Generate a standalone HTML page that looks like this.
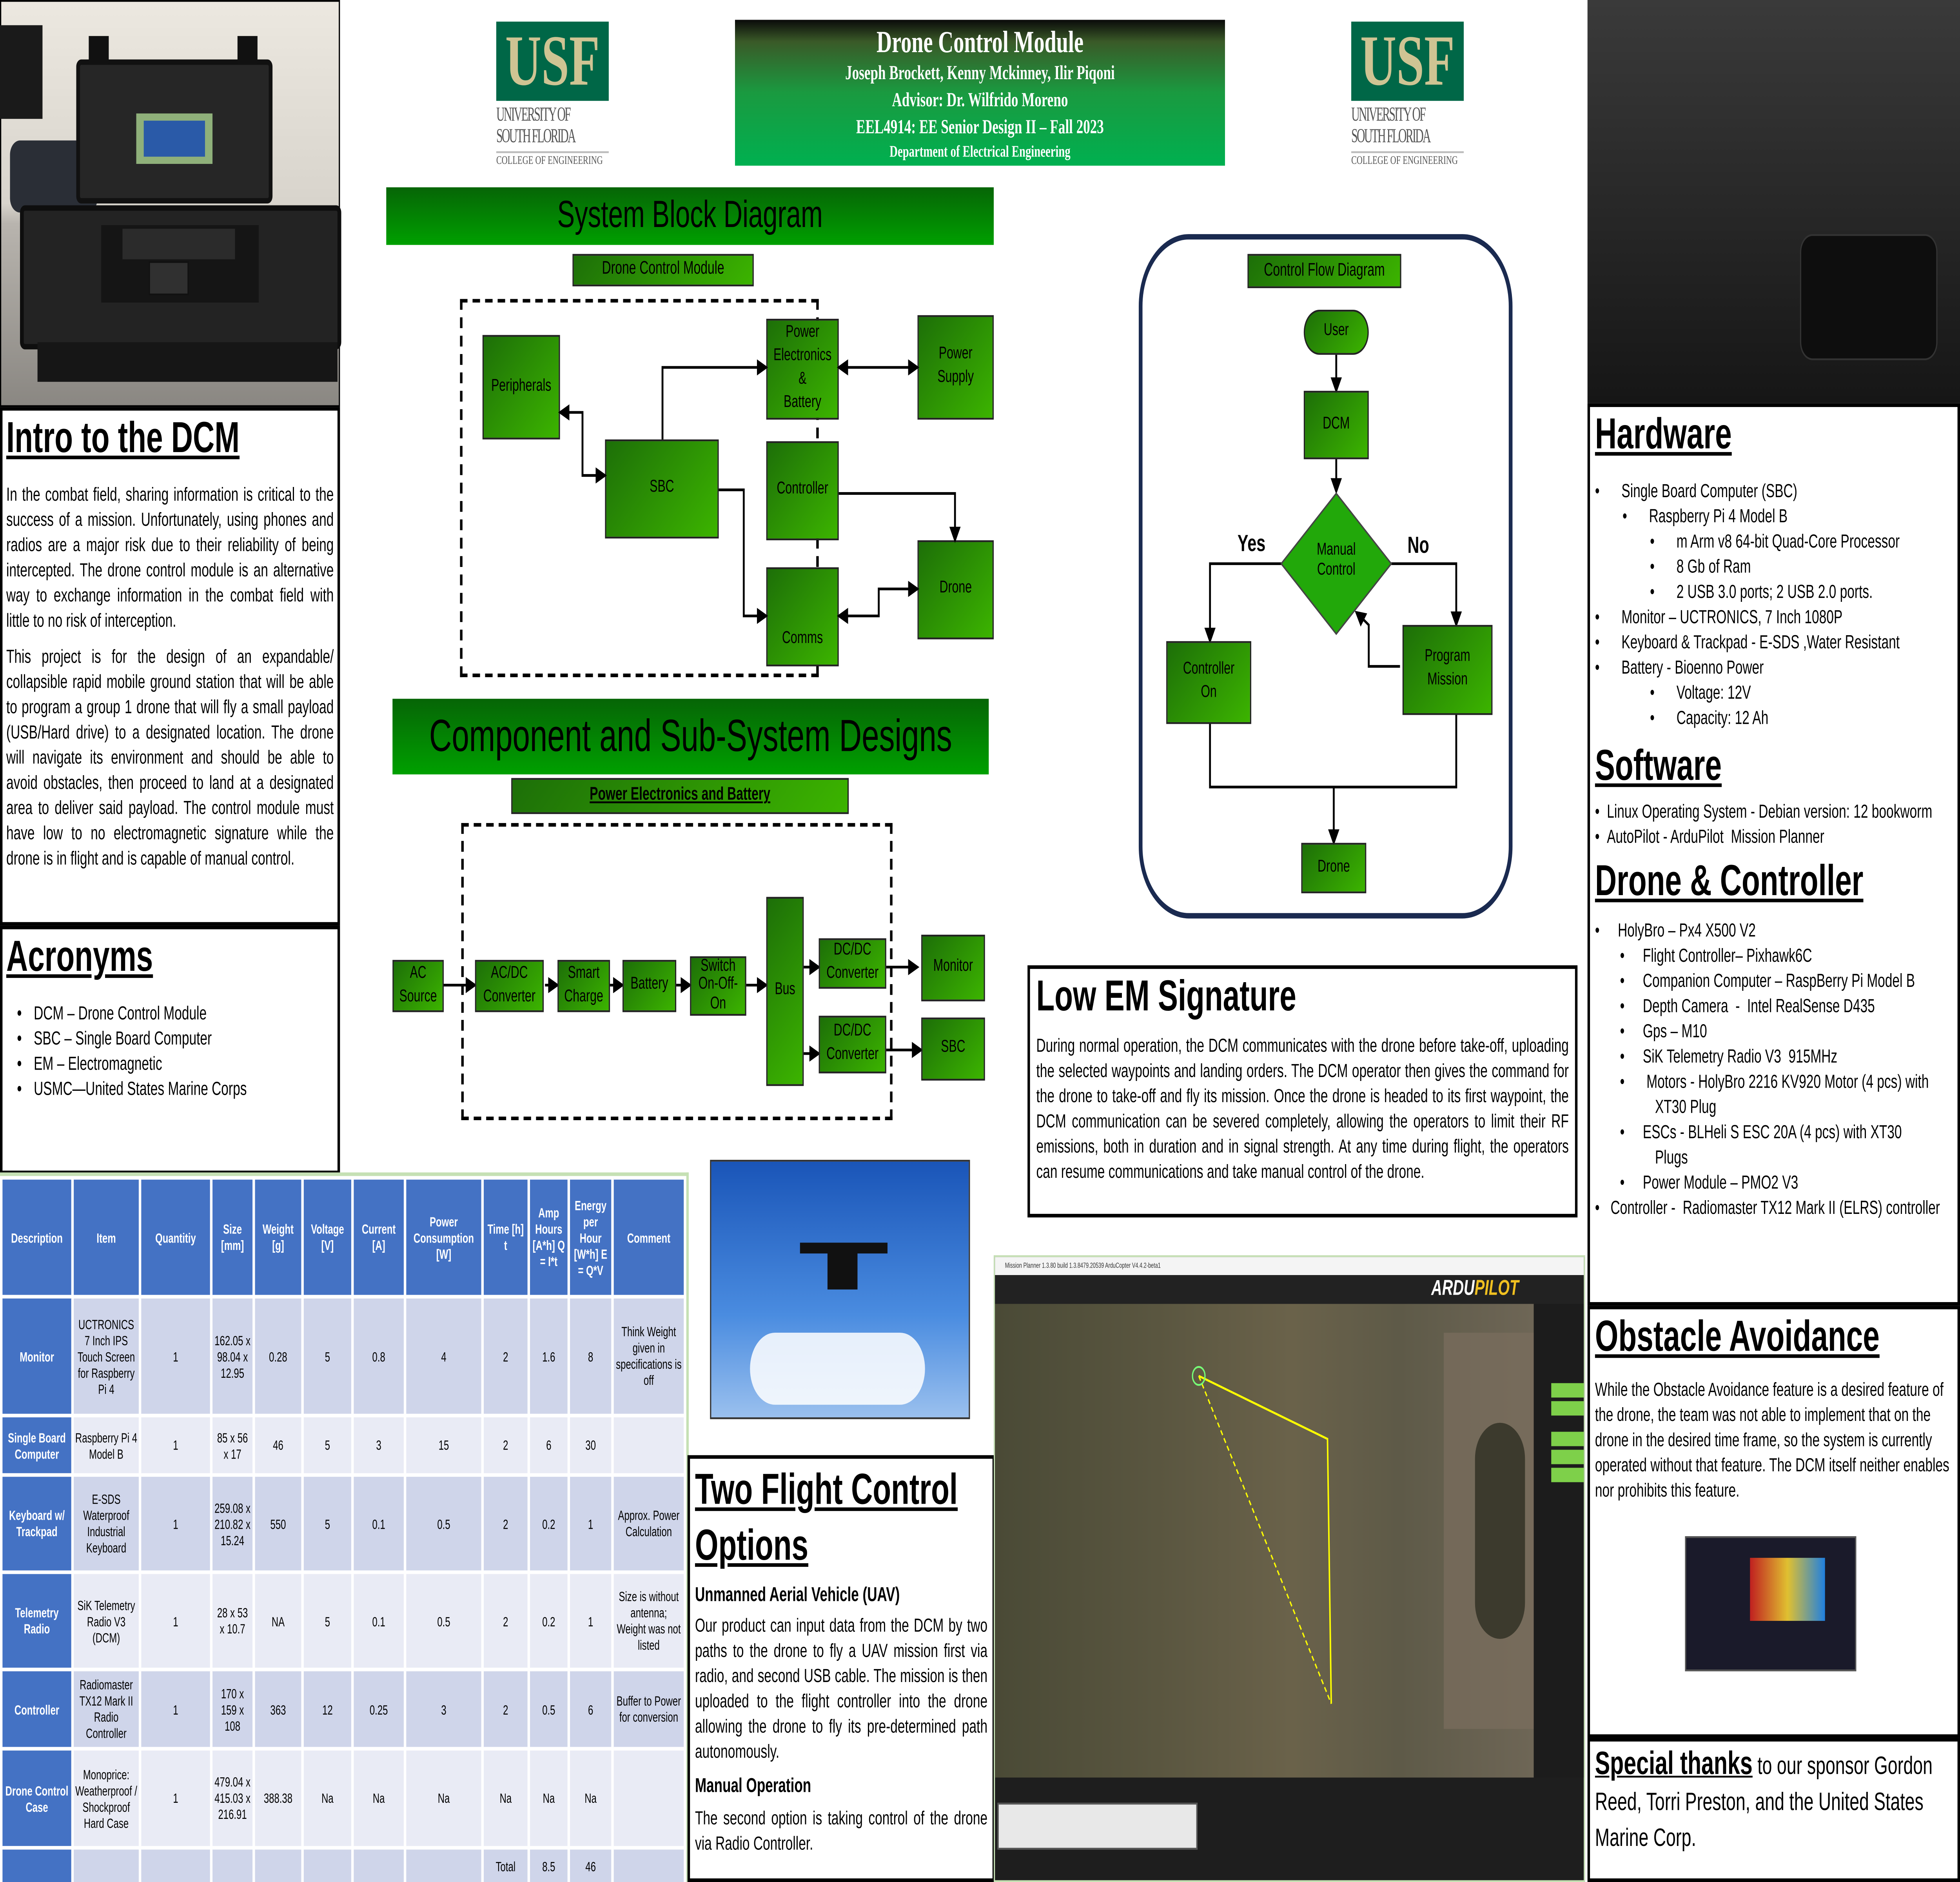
<!DOCTYPE html>
<html><head><meta charset="utf-8"><style>
html,body{margin:0;padding:0;background:#fff;width:100%;height:100%;overflow:hidden}
#root{position:fixed;left:0;top:0;width:100vw;height:100vh;display:block}
#p{position:relative;left:0;top:0;width:1568px;height:1045px;background:#fff;font-family:"Liberation Sans",sans-serif;color:#000;overflow:hidden}
.a{position:absolute;box-sizing:border-box}
.g{background:linear-gradient(135deg,#1d6f08,#3cb400);border:1px solid #222;display:flex;align-items:center;justify-content:center;text-align:center;font-size:9.5px;line-height:1.35}
.bar{background:linear-gradient(#066506,#00a000);display:flex;align-items:center;justify-content:center;color:#000}
.pan{border:2px solid #000;background:#fff}
h2{margin:0;font-size:24px;font-weight:bold;text-decoration:underline}
.tx{font-size:10.5px;line-height:14px;text-align:justify}
ul{margin:0;padding-left:12px;font-size:10.5px;line-height:14px}
table{border-collapse:collapse;font-size:7.5px;text-align:center;font-family:"Liberation Sans",sans-serif}
td{border:2px solid #fff;padding:0 1px}
.h td{background:#4472c4;color:#fff;font-weight:bold}
td.d{background:#4472c4;color:#fff;font-weight:bold}
tr.o td{background:#cfd5ea}tr.e td{background:#e9ebf5}
tr.o td.d,tr.e td.d{background:#4472c4}
.usf{background:#006747;color:#cfc493;font:bold 40px "Liberation Serif",serif;text-align:center;line-height:44px}
.usfs{font:9px "Liberation Serif",serif;color:#555;line-height:10px;white-space:nowrap;overflow:hidden}
.gb{background:#7ed04a}
</style></head><body>
<svg id="root" viewBox="0 0 1568 1045" preserveAspectRatio="none" xmlns="http://www.w3.org/2000/svg"><foreignObject x="0" y="0" width="1568" height="1045">
<div xmlns="http://www.w3.org/1999/xhtml" id="p">
<!-- left photo -->
<div class="a" style="left:0;top:0;width:272px;height:226px;background:linear-gradient(#ece8e0,#d8d4cc 50%,#b8b4ae 55%,#8a8782);border:1px solid #000"></div>
<div class="a" style="left:0;top:14px;width:34px;height:52px;background:#1a1a1a"></div>
<div class="a" style="left:8px;top:78px;width:70px;height:40px;background:#2a2e36;border-radius:8px"></div>
<div class="a" style="left:61px;top:33px;width:157px;height:80px;background:#262626;border:3px solid #111;border-radius:4px"></div>
<div class="a" style="left:71px;top:20px;width:16px;height:16px;background:#111"></div>
<div class="a" style="left:190px;top:20px;width:16px;height:16px;background:#111"></div>
<div class="a" style="left:109px;top:63px;width:61px;height:28px;background:#8fb07a"></div>
<div class="a" style="left:115px;top:67px;width:49px;height:20px;background:#2a5aa8"></div>
<div class="a" style="left:16px;top:114px;width:257px;height:80px;background:#232323;border:3px solid #0e0e0e;border-radius:4px"></div>
<div class="a" style="left:81px;top:125px;width:126px;height:43px;background:#151515"></div>
<div class="a" style="left:98px;top:127px;width:90px;height:17px;background:#2b2b2b"></div>
<div class="a" style="left:119px;top:145px;width:32px;height:19px;background:#303030;border:1px solid #111"></div>
<div class="a" style="left:30px;top:190px;width:240px;height:22px;background:#161616"></div>
<!-- intro -->
<div class="a pan" style="left:0;top:226px;width:272px;height:288px;padding:2px 3px">
<h2>Intro to the DCM</h2>
<div class="tx" style="margin-top:10px">In the combat field, sharing information is critical to the success of a mission. Unfortunately, using phones and radios are a major risk due to their reliability of being intercepted. The drone control module is an alternative way to exchange information in the combat field with little to no risk of interception.</div>
<div class="tx" style="margin-top:6px">This project is for the design of an expandable/ collapsible rapid mobile ground station that will be able to program a group 1 drone that will fly a small payload (USB/Hard drive) to a designated location. The drone will navigate its environment and should be able to avoid obstacles, then proceed to land at a designated area to deliver said payload. The control module must have low to no electromagnetic signature while the drone is in flight and is capable of manual control.</div>
</div>
<div class="a pan" style="left:0;top:514px;width:272px;height:138px;padding:2px 3px">
<h2>Acronyms</h2>
<ul style="margin-top:10px;padding-left:22px;font-size:10.5px"><li>DCM – Drone Control Module</li><li>SBC – Single Board Computer</li><li>EM – Electromagnetic</li><li>USMC—United States Marine Corps</li></ul>
</div>
<!-- table -->
<div class="a" style="left:0;top:651px;width:551px;height:394px;border-right:2px solid #c5e0b4;border-top:2px solid #c5e0b4">
<table style="width:549px;height:394px">
<tr class="h" style="height:66px"><td style="width:53px">Description</td><td style="width:50px">Item</td><td style="width:53px">Quantitiy</td><td style="width:30px">Size [mm]</td><td style="width:35px">Weight [g]</td><td style="width:36px">Voltage [V]</td><td style="width:38px">Current [A]</td><td style="width:58px">Power Consumption [W]</td><td style="width:33px">Time [h] t</td><td style="width:28px">Amp Hours [A*h] Q = I*t</td><td style="width:31px">Energy per Hour [W*h] E = Q*V</td><td>Comment</td></tr>
<tr class="o" style="height:66px"><td class="d">Monitor</td><td>UCTRONICS 7 Inch IPS Touch Screen for Raspberry Pi 4</td><td>1</td><td>162.05 x 98.04 x 12.95</td><td>0.28</td><td>5</td><td>0.8</td><td>4</td><td>2</td><td>1.6</td><td>8</td><td>Think Weight given in specifications is off</td></tr>
<tr class="e" style="height:33px"><td class="d">Single Board Computer</td><td>Raspberry Pi 4 Model B</td><td>1</td><td>85 x 56 x 17</td><td>46</td><td>5</td><td>3</td><td>15</td><td>2</td><td>6</td><td>30</td><td></td></tr>
<tr class="o" style="height:54px"><td class="d">Keyboard w/ Trackpad</td><td>E-SDS Waterproof Industrial Keyboard</td><td>1</td><td>259.08 x 210.82 x 15.24</td><td>550</td><td>5</td><td>0.1</td><td>0.5</td><td>2</td><td>0.2</td><td>1</td><td>Approx. Power Calculation</td></tr>
<tr class="e" style="height:54px"><td class="d">Telemetry Radio</td><td>SiK Telemetry Radio V3 (DCM)</td><td>1</td><td>28 x 53 x 10.7</td><td>NA</td><td>5</td><td>0.1</td><td>0.5</td><td>2</td><td>0.2</td><td>1</td><td>Size is without antenna; Weight was not listed</td></tr>
<tr class="o" style="height:44px"><td class="d">Controller</td><td>Radiomaster TX12 Mark II Radio Controller</td><td>1</td><td>170 x 159 x 108</td><td>363</td><td>12</td><td>0.25</td><td>3</td><td>2</td><td>0.5</td><td>6</td><td>Buffer to Power for conversion</td></tr>
<tr class="e" style="height:55px"><td class="d">Drone Control Case</td><td>Monoprice: Weatherproof / Shockproof Hard Case</td><td>1</td><td>479.04 x 415.03 x 216.91</td><td>388.38</td><td>Na</td><td>Na</td><td>Na</td><td>Na</td><td>Na</td><td>Na</td><td></td></tr>
<tr class="o" style="height:20px"><td class="d"></td><td></td><td></td><td></td><td></td><td></td><td></td><td></td><td>Total</td><td>8.5</td><td>46</td><td></td></tr>
</table></div>
<!-- header -->
<div class="a" style="left:397px;top:12px;width:90px;"><div class="usf">USF</div><div class="usfs" style="font-size:11px;line-height:12px;margin-top:2px;letter-spacing:-1px;transform:scaleX(0.85);transform-origin:0 0;width:106px">UNIVERSITY OF<br/>SOUTH FLORIDA</div><div class="usfs" style="font-size:6.5px;border-top:1px solid #bbb;margin-top:2px">COLLEGE OF ENGINEERING</div></div>
<div class="a" style="left:1081px;top:12px;width:90px;"><div class="usf">USF</div><div class="usfs" style="font-size:11px;line-height:12px;margin-top:2px;letter-spacing:-1px;transform:scaleX(0.85);transform-origin:0 0;width:106px">UNIVERSITY OF<br/>SOUTH FLORIDA</div><div class="usfs" style="font-size:6.5px;border-top:1px solid #bbb;margin-top:2px">COLLEGE OF ENGINEERING</div></div>
<div class="a" style="left:588px;top:11px;width:392px;height:81px;background:linear-gradient(#0a0a0a,#3a5a28 15%,#1a9a40 50%,#00b050);color:#fff;text-align:center;font-family:'Liberation Serif',serif;font-weight:bold">
<div style="font-size:17px;margin-top:3px">Drone Control Module</div>
<div style="font-size:11px;line-height:15px">Joseph Brockett, Kenny Mckinney, Ilir Piqoni<br/>Advisor: Dr. Wilfrido Moreno<br/>EEL4914: EE Senior Design II – Fall 2023</div>
<div style="font-size:9px">Department of Electrical Engineering</div></div>
<!-- system block diagram -->
<div class="a bar" style="left:309px;top:104px;width:486px;height:32px;font-size:21px">System Block Diagram</div>
<div class="a g" style="left:458px;top:141px;width:145px;height:18px;font-size:10px">Drone Control Module</div>
<div class="a" style="left:368px;top:166px;width:287px;height:210px;border:2px dashed #000"></div>
<div class="a g" style="left:386px;top:186px;width:62px;height:58px">Peripherals</div>
<div class="a g" style="left:484px;top:244px;width:91px;height:55px">SBC</div>
<div class="a g" style="left:613px;top:177px;width:58px;height:56px">Power<br/>Electronics<br/>&amp;<br/>Battery</div>
<div class="a g" style="left:613px;top:245px;width:58px;height:55px">Controller</div>
<div class="a g" style="left:613px;top:315px;width:58px;height:55px;padding-top:26px">Comms</div>
<div class="a g" style="left:734px;top:175px;width:61px;height:58px">Power<br/>Supply</div>
<div class="a g" style="left:734px;top:300px;width:61px;height:55px">Drone</div>
<svg class="a" style="left:0;top:0" width="1568" height="1045" viewBox="0 0 1568 1045">
<defs><marker id="m" markerWidth="6" markerHeight="6" refX="5" refY="3" orient="auto"><path d="M0,0L6,3L0,6z" fill="#000"/></marker>
<marker id="s" markerWidth="6" markerHeight="6" refX="1" refY="3" orient="auto"><path d="M6,0L0,3L6,6z" fill="#000"/></marker></defs>
<g stroke="#000" stroke-width="1.5" fill="none">
<path d="M448,229H466V264H484" marker-start="url(#s)" marker-end="url(#m)"/>
<path d="M530,244V204H613" marker-end="url(#m)"/>
<path d="M575,272H595V342H613" marker-end="url(#m)"/>
<path d="M671,204H734" marker-start="url(#s)" marker-end="url(#m)"/>
<path d="M671,274H764V300" marker-end="url(#m)"/>
<path d="M671,342H703V327H734" marker-start="url(#s)" marker-end="url(#m)"/>
<path d="M355,547H380" marker-end="url(#m)"/>
<path d="M436,547H446" marker-end="url(#m)"/>
<path d="M488,547H498" marker-end="url(#m)"/>
<path d="M541,547H552" marker-end="url(#m)"/>
<path d="M597,547H613" marker-end="url(#m)"/>
<path d="M643,537H655" marker-end="url(#m)"/>
<path d="M643,585H655" marker-end="url(#m)"/>
<path d="M709,537H734" marker-end="url(#m)"/>
<path d="M709,583H737" marker-end="url(#m)"/>
<path d="M1069,197V217" marker-end="url(#m)"/>
<path d="M1069,255V273" marker-end="url(#m)"/>
<path d="M1025,313H968V356" marker-end="url(#m)"/>
<path d="M1113,313H1165V347" marker-end="url(#m)"/>
<path d="M1120,370H1095V347L1085,340" marker-end="url(#m)"/>
<path d="M968,402V437H1165V397"/>
<path d="M1067,437V468" marker-end="url(#m)"/>
</g>
<polygon points="1069,274 1113,313 1069,352 1025,313" fill="#22a80a" stroke="#444"/>
</svg>
<!-- component -->
<div class="a bar" style="left:314px;top:388px;width:477px;height:42px;font-size:25px">Component and Sub-System Designs</div>
<div class="a g" style="left:409px;top:432px;width:270px;height:20px;font-size:10px;font-weight:bold;text-decoration:underline">Power Electronics and Battery</div>
<div class="a" style="left:369px;top:457px;width:345px;height:165px;border:2px dashed #000"></div>
<div class="a g" style="left:314px;top:533px;width:41px;height:29px">AC<br/>Source</div>
<div class="a g" style="left:380px;top:533px;width:55px;height:29px">AC/DC<br/>Converter</div>
<div class="a g" style="left:446px;top:533px;width:42px;height:29px">Smart<br/>Charge</div>
<div class="a g" style="left:498px;top:533px;width:43px;height:29px">Battery</div>
<div class="a g" style="left:552px;top:531px;width:45px;height:33px;line-height:1.1">Switch<br/>On-Off-<br/>On</div>
<div class="a g" style="left:613px;top:498px;width:30px;height:105px">Bus</div>
<div class="a g" style="left:655px;top:521px;width:54px;height:28px">DC/DC<br/>Converter</div>
<div class="a g" style="left:655px;top:564px;width:54px;height:32px">DC/DC<br/>Converter</div>
<div class="a g" style="left:737px;top:519px;width:51px;height:37px">Monitor</div>
<div class="a g" style="left:737px;top:565px;width:51px;height:35px">SBC</div>
<!-- control flow -->
<div class="a" style="left:911px;top:130px;width:299px;height:380px;border:3px solid #1a2a50;border-radius:40px"></div>
<div class="a g" style="left:998px;top:141px;width:123px;height:19px;font-size:10px">Control Flow Diagram</div>
<div class="a g" style="left:1043px;top:172px;width:52px;height:25px;border-radius:13px">User</div>
<div class="a g" style="left:1043px;top:217px;width:52px;height:38px">DCM</div>
<div class="a" style="left:1040px;top:300px;width:58px;font-size:9.5px;text-align:center">Manual<br/>Control</div>
<div class="a" style="left:990px;top:294px;font-size:13px;font-weight:bold">Yes</div>
<div class="a" style="left:1126px;top:295px;font-size:13px;font-weight:bold">No</div>
<div class="a g" style="left:933px;top:356px;width:68px;height:46px">Controller<br/>On</div>
<div class="a g" style="left:1122px;top:347px;width:72px;height:50px">Program<br/>Mission</div>
<div class="a g" style="left:1041px;top:468px;width:52px;height:28px">Drone</div>
<!-- low em -->
<div class="a pan" style="left:822px;top:536px;width:440px;height:140px;padding:2px 5px">
<h2 style="text-decoration:none">Low EM Signature</h2>
<div class="tx" style="margin-top:6px">During normal operation, the DCM communicates with the drone before take-off, uploading the selected waypoints and landing orders. The DCM operator then gives the command for the drone to take-off and fly its mission. Once the drone is headed to its first waypoint, the DCM communication can be severed completely, allowing the operators to limit their RF emissions, both in duration and in signal strength. At any time during flight, the operators can resume communications and take manual control of the drone.</div></div>
<!-- drone photo -->
<div class="a" style="left:568px;top:644px;width:208px;height:144px;background:linear-gradient(#1a55b8,#4a8ce0 60%,#9ac0ee);border:1px solid #333"></div>
<div class="a" style="left:600px;top:740px;width:140px;height:40px;background:#fff;border-radius:20px;opacity:.85"></div>
<div class="a" style="left:640px;top:690px;width:70px;height:6px;background:#111"></div>
<div class="a" style="left:662px;top:694px;width:24px;height:22px;background:#111"></div>
<!-- two flight -->
<div class="a pan" style="left:550px;top:808px;width:246px;height:237px;padding:2px 4px">
<h2 style="line-height:31px">Two Flight Control Options</h2>
<div style="font-size:11px;font-weight:bold;margin-top:6px">Unmanned Aerial Vehicle (UAV)</div>
<div class="tx" style="margin-top:4px">Our product can input data from the DCM by two paths to the drone to fly a UAV mission first via radio, and second USB cable. The mission is then uploaded to the flight controller into the drone allowing the drone to fly its pre-determined path autonomously.</div>
<div style="font-size:11px;font-weight:bold;margin-top:6px">Manual Operation</div>
<div class="tx" style="margin-top:5px">The second option is taking control of the drone via Radio Controller.</div></div>
<!-- mission planner -->
<div class="a" style="left:795px;top:697px;width:473px;height:348px;background:#1e1e1e;border:1px solid #c5e0b4"></div>
<div class="a" style="left:796px;top:698px;width:471px;height:10px;background:#f4f4f4;font-size:4px;line-height:10px;padding-left:8px;color:#333">Mission Planner 1.3.80 build 1.3.8479.20539 ArduCopter V4.4.2-beta1</div>
<div class="a" style="left:796px;top:708px;width:471px;height:16px;background:#222"></div>
<div class="a" style="left:1145px;top:708px;width:70px;height:16px;color:#fff;font:bold italic 12px 'Liberation Sans',sans-serif">ARDU<span style="color:#f0c020">PILOT</span></div>
<div class="a" style="left:796px;top:724px;width:431px;height:263px;background:linear-gradient(90deg,#4a4a36,#5a5640 30%,#6a624a 55%,#5e5a48 75%,#6e6656)"></div>
<div class="a" style="left:1155px;top:740px;width:72px;height:220px;background:#7a6e5e;opacity:.7"></div>
<div class="a" style="left:1180px;top:790px;width:40px;height:120px;background:#2e2e22;border-radius:20px;opacity:.8"></div>
<div class="a" style="left:1227px;top:724px;width:40px;height:263px;background:#1c1c1c"></div>
<div class="a gb" style="left:1241px;top:768px;width:26px;height:8px"></div>
<div class="a gb" style="left:1241px;top:778px;width:26px;height:8px"></div>
<div class="a gb" style="left:1241px;top:795px;width:26px;height:8px"></div>
<div class="a gb" style="left:1241px;top:805px;width:26px;height:8px"></div>
<div class="a gb" style="left:1241px;top:815px;width:26px;height:8px"></div>
<div class="a" style="left:798px;top:1001px;width:160px;height:26px;background:#e8e8e8;border:1px solid #555"></div>
<svg class="a" style="left:0;top:0" width="1568" height="1045"><path d="M959,764L1062,799L1065,946" stroke="#ff0" stroke-width="1.2" fill="none"/><path d="M959,764L1065,946" stroke="#ff0" stroke-width="1" stroke-dasharray="3,2" fill="none"/><circle cx="959" cy="764" r="5" fill="none" stroke="#7f7" stroke-width="1"/></svg>
<!-- right col -->
<div class="a" style="left:1270px;top:0;width:298px;height:224px;background:linear-gradient(#3a3a3a,#161616)"></div>
<div class="a" style="left:1440px;top:130px;width:110px;height:70px;background:#0e0e0e;border-radius:10px;border:1px solid #333"></div>
<div class="a pan" style="left:1270px;top:224px;width:298px;height:501px;padding:2px 4px">
<h2>Hardware</h2>
<div style="font-size:10.5px;line-height:14px;margin-top:10px">
<div>•&nbsp;&nbsp;&nbsp;&nbsp;&nbsp;&nbsp;Single Board Computer (SBC)</div>
<div style="padding-left:22px">•&nbsp;&nbsp;&nbsp;&nbsp;&nbsp;&nbsp;Raspberry Pi 4 Model B</div>
<div style="padding-left:44px">•&nbsp;&nbsp;&nbsp;&nbsp;&nbsp;&nbsp;m Arm v8 64-bit Quad-Core Processor</div>
<div style="padding-left:44px">•&nbsp;&nbsp;&nbsp;&nbsp;&nbsp;&nbsp;8 Gb of Ram</div>
<div style="padding-left:44px">•&nbsp;&nbsp;&nbsp;&nbsp;&nbsp;&nbsp;2 USB 3.0 ports; 2 USB 2.0 ports.</div>
<div>•&nbsp;&nbsp;&nbsp;&nbsp;&nbsp;&nbsp;Monitor – UCTRONICS, 7 Inch 1080P</div>
<div>•&nbsp;&nbsp;&nbsp;&nbsp;&nbsp;&nbsp;Keyboard &amp; Trackpad - E-SDS ,Water Resistant</div>
<div>•&nbsp;&nbsp;&nbsp;&nbsp;&nbsp;&nbsp;Battery - Bioenno Power</div>
<div style="padding-left:44px">•&nbsp;&nbsp;&nbsp;&nbsp;&nbsp;&nbsp;Voltage: 12V</div>
<div style="padding-left:44px">•&nbsp;&nbsp;&nbsp;&nbsp;&nbsp;&nbsp;Capacity: 12 Ah</div></div>
<h2 style="margin-top:6px">Software</h2>
<div style="font-size:10.5px;line-height:14px;margin-top:4px"><div>•&nbsp;&nbsp;Linux Operating System - Debian version: 12 bookworm</div><div>•&nbsp;&nbsp;AutoPilot - ArduPilot &nbsp;Mission Planner</div></div>
<h2 style="margin-top:4px">Drone &amp; Controller</h2>
<div style="font-size:10.5px;line-height:14px;margin-top:6px">
<div>•&nbsp;&nbsp;&nbsp;&nbsp;&nbsp;HolyBro – Px4 X500 V2</div>
<div style="padding-left:20px">•&nbsp;&nbsp;&nbsp;&nbsp;&nbsp;Flight Controller– Pixhawk6C</div>
<div style="padding-left:20px">•&nbsp;&nbsp;&nbsp;&nbsp;&nbsp;Companion Computer – RaspBerry Pi Model B</div>
<div style="padding-left:20px">•&nbsp;&nbsp;&nbsp;&nbsp;&nbsp;Depth Camera &nbsp;- &nbsp;Intel RealSense D435</div>
<div style="padding-left:20px">•&nbsp;&nbsp;&nbsp;&nbsp;&nbsp;Gps – M10</div>
<div style="padding-left:20px">•&nbsp;&nbsp;&nbsp;&nbsp;&nbsp;SiK Telemetry Radio V3 &nbsp;915MHz</div>
<div style="padding-left:20px">•&nbsp;&nbsp;&nbsp;&nbsp;&nbsp;&nbsp;Motors - HolyBro 2216 KV920 Motor (4 pcs) with<br/><span style="padding-left:28px">XT30 Plug</span></div>
<div style="padding-left:20px">•&nbsp;&nbsp;&nbsp;&nbsp;&nbsp;ESCs - BLHeli S ESC 20A (4 pcs) with XT30<br/><span style="padding-left:28px">Plugs</span></div>
<div style="padding-left:20px">•&nbsp;&nbsp;&nbsp;&nbsp;&nbsp;Power Module – PMO2 V3</div>
<div>•&nbsp;&nbsp;&nbsp;Controller - &nbsp;Radiomaster TX12 Mark II (ELRS) controller</div></div></div>
<div class="a pan" style="left:1270px;top:725px;width:298px;height:240px;padding:2px 4px">
<h2>Obstacle Avoidance</h2>
<div class="tx" style="margin-top:8px;text-align:left">While the Obstacle Avoidance feature is a desired feature of the drone, the team was not able to implement that on the drone in the desired time frame, so the system is currently operated without that feature. The DCM itself neither enables nor prohibits this feature.</div></div>
<div class="a" style="left:1348px;top:853px;width:137px;height:75px;background:#1a1a2a;border:1px solid #555"></div>
<div class="a" style="left:1400px;top:865px;width:60px;height:35px;background:linear-gradient(90deg,#c02020,#e0c030,#2080e0)"></div>
<div class="a pan" style="left:1270px;top:965px;width:298px;height:80px;padding:2px 4px;font-size:14px;line-height:20px">
<span style="font-size:18px;font-weight:bold;text-decoration:underline">Special thanks</span> to our sponsor Gordon Reed, Torri Preston, and the United States Marine Corp.</div>
</div></foreignObject></svg></body></html>
